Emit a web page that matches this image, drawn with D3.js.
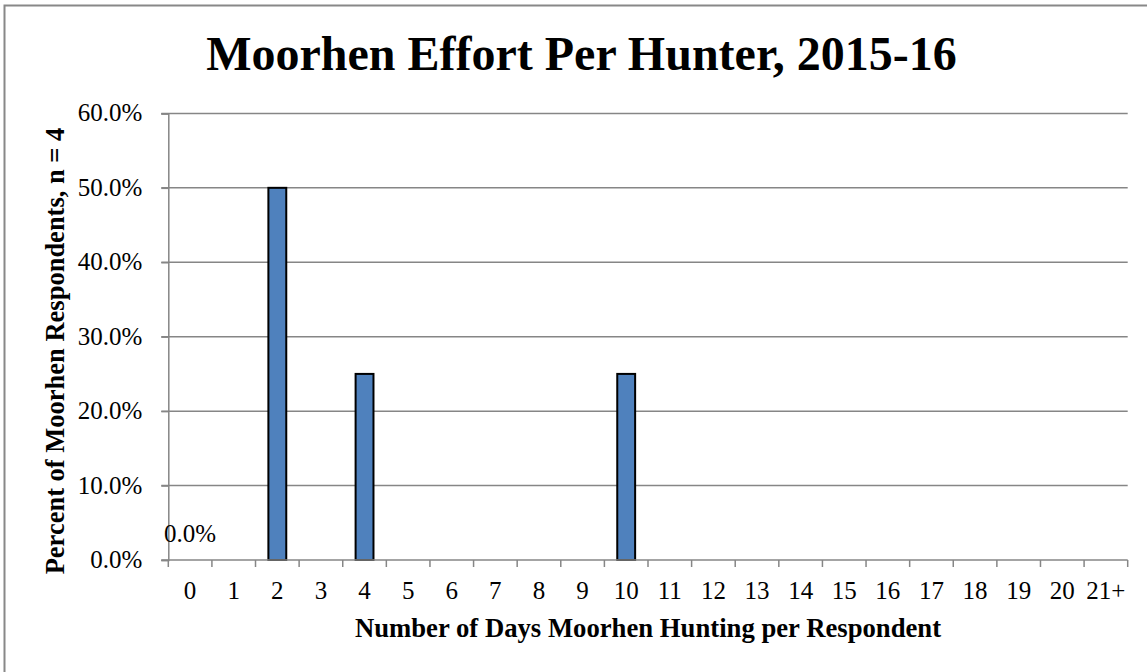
<!DOCTYPE html>
<html><head><meta charset="utf-8">
<script src="https://cdn.jsdelivr.net/npm/d3@7"></script>
<style>body{margin:0;background:#fff;} svg{display:block;}</style>
</head><body>
<svg id="chart" width="1147" height="672"></svg>
<script>
const categories = ["0","1","2","3","4","5","6","7","8","9","10","11","12","13","14","15","16","17","18","19","20","21+"];
const values = [0,0,0.5,0,0.25,0,0,0,0,0,0.25,0,0,0,0,0,0,0,0,0,0,0];
const yTicks = [0,0.1,0.2,0.3,0.4,0.5,0.6];
const labelIndices = [0];
const title = "Moorhen Effort Per Hunter, 2015-16";
const xTitle = "Number of Days Moorhen Hunting per Respondent";
const yTitle = "Percent of Moorhen Respondents, n = 4";

const svg = d3.select("#chart");
const font = "'Liberation Serif','Times New Roman',serif";
const grid = "#868686";
const L = 168.3, R = 1127.7, T = 113.4, B = 560;

svg.append("rect").attr("x",4.5).attr("y",5.5).attr("width",1160).attr("height",700)
  .attr("fill","none").attr("stroke","#888").attr("stroke-width",2);

const x = d3.scaleBand().domain(categories).range([L,R]).paddingInner(0).paddingOuter(0);
const y = d3.scaleLinear().domain([0,0.6]).range([B,T]);
const fmt = d3.format(".1%");

// gridlines
svg.append("g").selectAll("line").data(yTicks.filter(d=>d>0)).join("line")
  .attr("x1",L-7).attr("x2",R).attr("y1",d=>y(d)).attr("y2",d=>y(d))
  .attr("stroke",grid).attr("stroke-width",1.5);

// y axis
const ya = svg.append("g").attr("transform",`translate(${L},0)`)
  .call(d3.axisLeft(y).tickValues(yTicks).tickFormat(fmt).tickSize(7).tickPadding(19));
ya.select(".domain").attr("stroke",grid).attr("stroke-width",1.5);
ya.selectAll(".tick line").attr("stroke",grid).attr("stroke-width",1.5);
ya.selectAll("text").attr("font-family",font).attr("font-size",25).attr("fill","#000").attr("dy","0.3em");

// bars
const bw = x.bandwidth()*0.41;
svg.append("g").selectAll("rect").data(values.map((v,i)=>({c:categories[i],v})).filter(d=>d.v>0)).join("rect")
  .attr("x",d=>x(d.c)+x.bandwidth()/2-bw/2).attr("width",bw)
  .attr("y",d=>y(d.v)).attr("height",d=>B-y(d.v))
  .attr("fill","#4F81BD").attr("stroke","#000").attr("stroke-width",2);

// x axis
const xa = svg.append("g").attr("transform",`translate(0,${B})`)
  .call(d3.axisBottom(x).tickSize(0).tickPadding(39));
xa.select(".domain").remove();
svg.append("line").attr("x1",L-7).attr("x2",R).attr("y1",B).attr("y2",B).attr("stroke",grid).attr("stroke-width",1.5);
xa.selectAll("text").attr("font-family",font).attr("font-size",25).attr("fill","#000").attr("dy","0");
const edges = categories.map(c=>x(c)).concat([R]);
svg.append("g").selectAll("line").data(edges).join("line")
  .attr("x1",d=>d).attr("x2",d=>d).attr("y1",B).attr("y2",B+7)
  .attr("stroke",grid).attr("stroke-width",1.5);

// data labels
svg.append("g").selectAll("text").data(labelIndices).join("text")
  .attr("x",i=>x(categories[i])+x.bandwidth()/2).attr("y",i=>y(values[i])-18)
  .attr("text-anchor","middle").attr("font-family",font).attr("font-size",25)
  .text(i=>fmt(values[i]));

// titles
svg.append("text").attr("x",581.5).attr("y",70).attr("text-anchor","middle")
  .attr("font-family",font).attr("font-weight","bold").attr("font-size",48).text(title);
svg.append("text").attr("x",(L+R)/2).attr("y",637).attr("text-anchor","middle")
  .attr("font-family",font).attr("font-weight","bold").attr("font-size",26.7).text(xTitle);
svg.append("text").attr("transform",`translate(63.5,351) rotate(-90)`).attr("text-anchor","middle")
  .attr("font-family",font).attr("font-weight","bold").attr("font-size",26.5).text(yTitle);
</script>
</body></html>
